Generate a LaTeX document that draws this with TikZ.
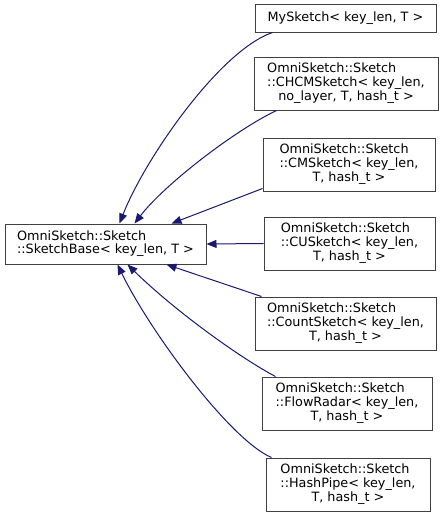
\documentclass[tikz,border=0pt]{standalone}
\usepackage{fontspec}
\setmainfont{DejaVu Sans}
\usetikzlibrary{arrows.meta}
\definecolor{edgeblue}{HTML}{191970}
\definecolor{boxgray}{HTML}{404040}
\newcommand{\lastrow}[1]{\multicolumn{1}{@{}c@{}}{#1}}
\begin{document}
\begin{tikzpicture}[x=1pt, y=-1pt,
    klass/.style={draw=boxgray, line width=1pt, inner sep=0pt, minimum height=53pt,
        font=\fontsize{12.8}{13.3}\selectfont},
    inherit/.style={draw=edgeblue, line width=1pt, -{Triangle[length=10pt,width=8pt]}}]
    \useasboundingbox (0,0) rectangle (443,517);

    % Base class on the left
    \node[klass, minimum width=201pt, minimum height=40pt] (base) at (105.5,244)
        {\begin{tabular}{@{}l@{}}OmniSketch::Sketch\\::SketchBase< key\_len, T >\end{tabular}};

    % Derived classes in a column on the right
    \node[klass, minimum width=181pt, minimum height=28pt] (mysk) at (345.5,18)
        {MySketch< key\_len, T >};
    \node[klass, minimum width=184pt] (chcm) at (346,83.5)
        {\begin{tabular}{@{}l@{}}OmniSketch::Sketch\\::CHCMSketch< key\_len,\\\lastrow{no\_layer, T, hash\_t >}\end{tabular}};
    \node[klass, minimum width=172pt] (cms) at (349,164.5)
        {\begin{tabular}{@{}l@{}}OmniSketch::Sketch\\::CMSketch< key\_len,\\\lastrow{T, hash\_t >}\end{tabular}};
    \node[klass, minimum width=171pt] (cus) at (349.5,243.5)
        {\begin{tabular}{@{}l@{}}OmniSketch::Sketch\\::CUSketch< key\_len,\\\lastrow{T, hash\_t >}\end{tabular}};
    \node[klass, minimum width=181pt] (count) at (345.5,323.5)
        {\begin{tabular}{@{}l@{}}OmniSketch::Sketch\\::CountSketch< key\_len,\\\lastrow{T, hash\_t >}\end{tabular}};
    \node[klass, minimum width=170pt] (flow) at (347,403.5)
        {\begin{tabular}{@{}l@{}}OmniSketch::Sketch\\::FlowRadar< key\_len,\\\lastrow{T, hash\_t >}\end{tabular}};
    \node[klass, minimum width=164pt] (hash) at (348,484.5)
        {\begin{tabular}{@{}l@{}}OmniSketch::Sketch\\::HashPipe< key\_len,\\\lastrow{T, hash\_t >}\end{tabular}};

    % Inheritance edges above the base
    \draw[inherit] ([xshift=18pt]mysk.south west) .. controls +(-53,18) and +(25,-64) .. ([xshift=115pt]base.north west);
    \draw[inherit] ([xshift=23pt]chcm.south west) .. controls +(-42,20) and +(30,-39) .. ([xshift=130pt]base.north west);
    \draw[inherit] ([yshift=3pt]cms.south west) -- ([xshift=167pt]base.north west);

    % Inheritance edge beside the base
    \draw[inherit] (cus.west) -- (base.east);

    % Inheritance edges below the base
    \draw[inherit] ([xshift=7pt]count.north west) -- ([xshift=162pt]base.south west);
    \draw[inherit] ([xshift=14pt]flow.north west) .. controls +(-36,-19) and +(47,46) .. ([xshift=123pt]base.south west);
    \draw[inherit] ([xshift=6pt]hash.north west) .. controls +(-42,-18) and +(32,66) .. ([xshift=113pt]base.south west);

\end{tikzpicture}
\end{document}
